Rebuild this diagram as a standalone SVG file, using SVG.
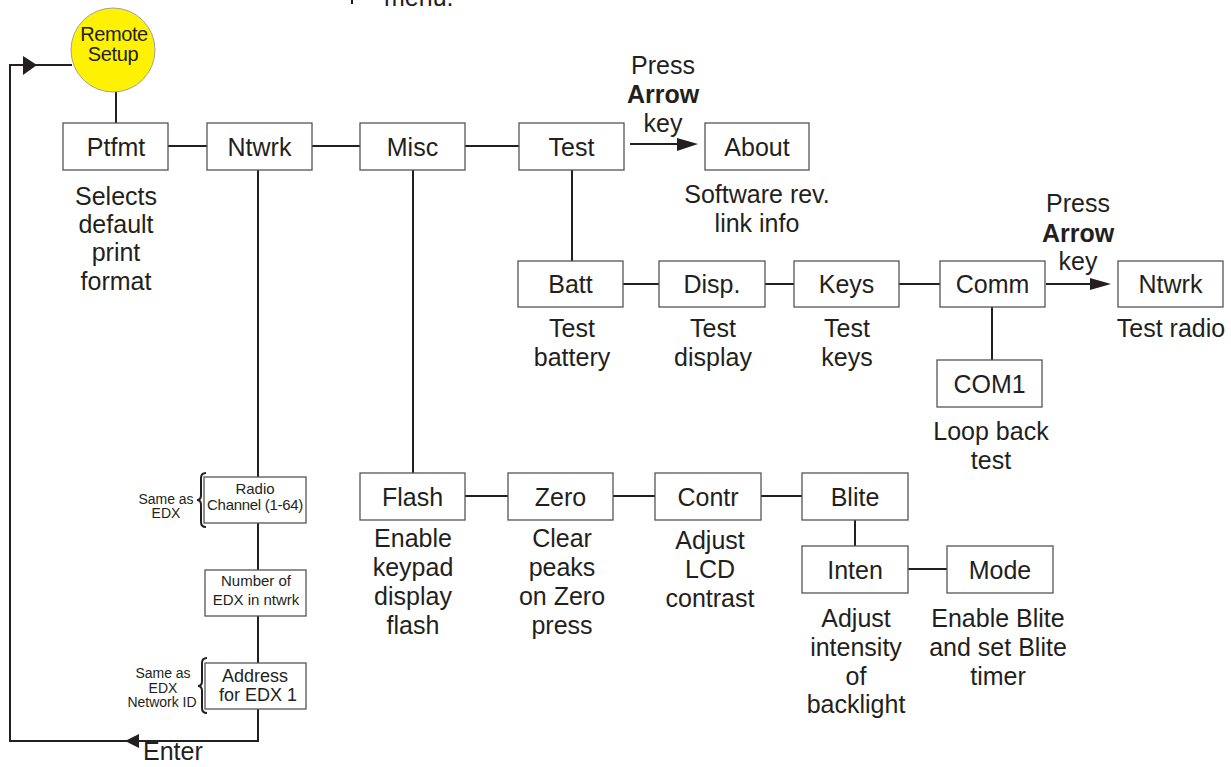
<svg xmlns="http://www.w3.org/2000/svg" width="1231" height="767" viewBox="0 0 1231 767">
<style>
  text { font-family: "Liberation Sans", Arial, sans-serif; fill: #231f20; text-anchor: middle; }
  .lbl { font-size: 25px; }
  .b { font-weight: bold; }
  .sm { font-size: 14px; }
  .md { font-size: 15px; }
  .ad { font-size: 18px; }
  .box { fill: #ffffff; stroke: #555555; stroke-width: 1.3; }
  .con { fill: none; stroke: #231f20; stroke-width: 2; }
  .brace { fill: none; stroke: #231f20; stroke-width: 2; }
  .ah { fill: #231f20; stroke: none; }
  .rs { font-size: 20px; letter-spacing: -0.4px; }
</style>
<rect width="1231" height="767" fill="#ffffff"/>

<!-- top fragment -->
<g id="top-fragment">
  <line x1="352" y1="0" x2="352" y2="4" stroke="#231f20" stroke-width="2"/>
  <text class="lbl" x="384" y="6" style="text-anchor:start">menu.</text>
</g>

<!-- connectors -->
<g id="connectors">
  <!-- loop back -->
  <polyline class="con" points="258,170 258,741 10,741 10,65 72,65"/>
  <polygon class="ah" points="23,56 37,65 23,75"/>
  <polygon class="ah" points="125,741 139,734 139,748"/>
  <!-- circle to Ptfmt -->
  <line class="con" x1="116" y1="92" x2="116" y2="123"/>
  <!-- row 1 -->
  <line class="con" x1="168" y1="146" x2="207" y2="146"/>
  <line class="con" x1="312" y1="146" x2="360" y2="146"/>
  <line class="con" x1="465" y1="146" x2="519" y2="146"/>
  <line class="con" x1="630" y1="144" x2="680" y2="144"/>
  <polygon class="ah" points="677,138 698,144 677,151"/>
  <!-- Test down to Batt -->
  <line class="con" x1="572" y1="170" x2="572" y2="261"/>
  <!-- row 2 -->
  <line class="con" x1="623" y1="284" x2="659" y2="284"/>
  <line class="con" x1="765" y1="284" x2="794" y2="284"/>
  <line class="con" x1="899" y1="284" x2="940" y2="284"/>
  <line class="con" x1="1046" y1="284" x2="1093" y2="284"/>
  <polygon class="ah" points="1090,278 1111,284 1090,290"/>
  <line class="con" x1="992" y1="307" x2="992" y2="360"/>
  <!-- Misc down to Flash -->
  <line class="con" x1="413" y1="170" x2="413" y2="473"/>
  <!-- row 3 -->
  <line class="con" x1="465" y1="496" x2="508" y2="496"/>
  <line class="con" x1="613" y1="496" x2="655" y2="496"/>
  <line class="con" x1="761" y1="496" x2="802" y2="496"/>
  <line class="con" x1="855" y1="520" x2="855" y2="546"/>
  <line class="con" x1="908" y1="569" x2="947" y2="569"/>
  <!-- braces -->
  <path class="brace" d="M206,473 Q201,473 201,478 L201,495 Q201,500 197,500 Q201,500 201,505 L201,522 Q201,527 206,527"/>
  <path class="brace" d="M207,658 Q202,658 202,663 L202,681 Q202,686 198,686 Q202,686 202,691 L202,708 Q202,713 207,713"/>
</g>

<!-- nodes -->
<g id="remote-setup">
  <circle cx="113" cy="50" r="42" fill="#fff200" stroke="#a0a0a0" stroke-width="1"/>
  <text class="rs" x="114" y="41">Remote</text>
  <text class="rs" x="113" y="61">Setup</text>
</g>

<g id="ptfmt">
  <rect class="box" x="63" y="123" width="105" height="47"/>
  <text class="lbl" x="116" y="155.5">Ptfmt</text>
  <text class="lbl" x="116" y="205">Selects</text>
  <text class="lbl" x="116" y="233">default</text>
  <text class="lbl" x="116" y="261">print</text>
  <text class="lbl" x="116" y="290">format</text>
</g>

<g id="ntwrk">
  <rect class="box" x="207" y="123" width="105" height="47"/>
  <text class="lbl" x="259.5" y="155.5">Ntwrk</text>
</g>

<g id="misc">
  <rect class="box" x="360" y="123" width="105" height="47"/>
  <text class="lbl" x="412.5" y="155.5">Misc</text>
</g>

<g id="test">
  <rect class="box" x="519" y="123" width="105" height="47"/>
  <text class="lbl" x="571.5" y="155.5">Test</text>
  <text class="lbl" x="663" y="74">Press</text>
  <text class="lbl b" x="663" y="103">Arrow</text>
  <text class="lbl" x="663" y="132">key</text>
</g>

<g id="about">
  <rect class="box" x="705" y="123" width="104" height="47"/>
  <text class="lbl" x="757" y="155.5">About</text>
  <text class="lbl" x="757" y="203">Software rev.</text>
  <text class="lbl" x="757" y="232">link info</text>
</g>

<g id="batt">
  <rect class="box" x="518" y="261" width="105" height="46"/>
  <text class="lbl" x="570.5" y="293">Batt</text>
  <text class="lbl" x="572" y="337">Test</text>
  <text class="lbl" x="572" y="366">battery</text>
</g>

<g id="disp">
  <rect class="box" x="659" y="261" width="106" height="46"/>
  <text class="lbl" x="712" y="293">Disp.</text>
  <text class="lbl" x="713" y="337">Test</text>
  <text class="lbl" x="713" y="366">display</text>
</g>

<g id="keys">
  <rect class="box" x="794" y="261" width="105" height="46"/>
  <text class="lbl" x="846.5" y="293">Keys</text>
  <text class="lbl" x="847" y="337">Test</text>
  <text class="lbl" x="847" y="366">keys</text>
</g>

<g id="comm">
  <rect class="box" x="940" y="261" width="105" height="46"/>
  <text class="lbl" x="992.5" y="293">Comm</text>
  <text class="lbl" x="1078" y="212">Press</text>
  <text class="lbl b" x="1078" y="242">Arrow</text>
  <text class="lbl" x="1078" y="270">key</text>
</g>

<g id="ntwrk-test">
  <rect class="box" x="1118" y="261" width="105" height="46"/>
  <text class="lbl" x="1170.5" y="293">Ntwrk</text>
  <text class="lbl" x="1171" y="337">Test radio</text>
</g>

<g id="com1">
  <rect class="box" x="937" y="360" width="105" height="47"/>
  <text class="lbl" x="989.5" y="392.5">COM1</text>
  <text class="lbl" x="991" y="440">Loop back</text>
  <text class="lbl" x="991" y="469">test</text>
</g>

<g id="flash">
  <rect class="box" x="360" y="473" width="105" height="47"/>
  <text class="lbl" x="412.5" y="506">Flash</text>
  <text class="lbl" x="413" y="547">Enable</text>
  <text class="lbl" x="413" y="576">keypad</text>
  <text class="lbl" x="413" y="605">display</text>
  <text class="lbl" x="413" y="634">flash</text>
</g>

<g id="zero">
  <rect class="box" x="508" y="473" width="105" height="47"/>
  <text class="lbl" x="560.5" y="506">Zero</text>
  <text class="lbl" x="562" y="547">Clear</text>
  <text class="lbl" x="562" y="576">peaks</text>
  <text class="lbl" x="562" y="605">on Zero</text>
  <text class="lbl" x="562" y="634">press</text>
</g>

<g id="contr">
  <rect class="box" x="655" y="473" width="106" height="47"/>
  <text class="lbl" x="708" y="506">Contr</text>
  <text class="lbl" x="710" y="549">Adjust</text>
  <text class="lbl" x="710" y="578">LCD</text>
  <text class="lbl" x="710" y="607">contrast</text>
</g>

<g id="blite">
  <rect class="box" x="802" y="473" width="106" height="47"/>
  <text class="lbl" x="855" y="506">Blite</text>
</g>

<g id="inten">
  <rect class="box" x="802" y="546" width="106" height="47"/>
  <text class="lbl" x="855" y="579">Inten</text>
  <text class="lbl" x="856" y="627">Adjust</text>
  <text class="lbl" x="856" y="656">intensity</text>
  <text class="lbl" x="856" y="685">of</text>
  <text class="lbl" x="856" y="713">backlight</text>
</g>

<g id="mode">
  <rect class="box" x="947" y="546" width="106" height="47"/>
  <text class="lbl" x="1000" y="579">Mode</text>
  <text class="lbl" x="998" y="627">Enable Blite</text>
  <text class="lbl" x="998" y="656">and set Blite</text>
  <text class="lbl" x="998" y="685">timer</text>
</g>

<g id="radio-channel">
  <rect class="box" x="204" y="477" width="102" height="46"/>
  <text class="md" x="255" y="494">Radio</text>
  <text class="md" x="255" y="510" style="letter-spacing:-0.3px">Channel (1-64)</text>
  <text class="sm" x="166" y="504">Same as</text>
  <text class="sm" x="166" y="518">EDX</text>
</g>

<g id="number-of-edx">
  <rect class="box" x="205" y="570" width="101" height="46"/>
  <text class="md" x="256" y="586">Number of</text>
  <text class="md" x="256" y="605">EDX in ntwrk</text>
</g>

<g id="address">
  <rect class="box" x="205" y="663" width="101" height="46"/>
  <text class="ad" x="255" y="682">Address</text>
  <text class="ad" x="258" y="701">for EDX 1</text>
  <text class="sm" x="163" y="678">Same as</text>
  <text class="sm" x="163" y="693">EDX</text>
  <text class="sm" x="162" y="707">Network ID</text>
</g>

<g id="enter-label">
  <text class="lbl" x="143" y="760" style="text-anchor:start">Enter</text>
</g>
</svg>
